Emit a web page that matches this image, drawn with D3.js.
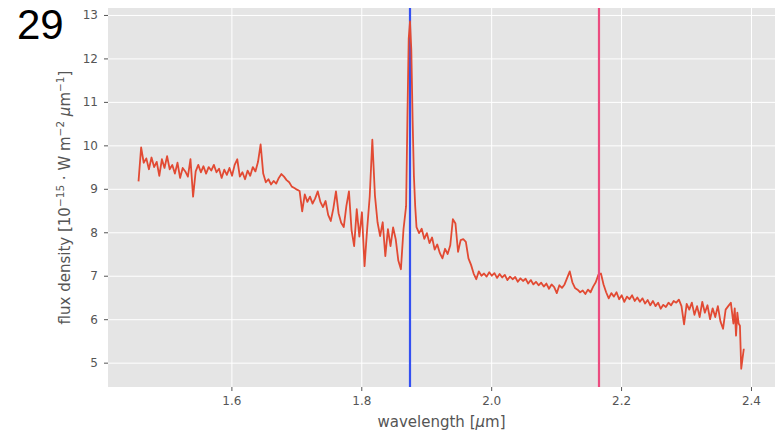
<!DOCTYPE html>
<html>
<head>
<meta charset="utf-8">
<script src="https://cdn.jsdelivr.net/npm/d3@7"></script>
<style>
  body { margin: 0; background: #fff; }
  svg { display: block; }
</style>
</head>
<body>
<div id="chart"></div>
<script>
// spectrum: wavelength [um] and flux density
var wavelength = [
  1.457,1.461,1.465,1.469,1.473,1.477,1.481,1.485,1.489,1.493,
  1.497,1.501,1.505,1.509,1.513,1.517,1.521,1.525,1.529,1.533,
  1.537,1.541,1.545,1.549,1.553,1.557,1.561,1.565,1.569,1.573,
  1.577,1.581,1.585,1.589,1.593,1.597,1.601,1.605,1.609,1.613,
  1.617,1.621,1.625,1.629,1.633,1.637,1.641,1.645,1.649,1.653,
  1.657,1.661,1.665,1.669,1.673,1.677,1.681,1.685,1.689,1.693,
  1.697,1.701,1.705,1.709,1.713,1.717,1.721,1.725,1.729,1.733,
  1.737,1.741,1.745,1.749,1.753,1.757,1.761,1.765,1.769,1.773,
  1.777,1.781,1.785,1.789,1.793,1.797,1.801,1.805,1.809,1.813,
  1.817,1.821,1.825,1.829,1.833,1.837,1.841,1.845,1.849,1.853,
  1.857,1.861,1.865,1.869,1.871,1.873,1.875,1.877,1.879,1.881,
  1.883,1.885,1.889,1.893,1.897,1.901,1.905,1.909,1.913,1.917,
  1.921,1.925,1.929,1.933,1.937,1.941,1.945,1.949,1.953,1.957,
  1.961,1.965,1.969,1.973,1.977,1.981,1.985,1.989,1.993,1.997,
  2.001,2.005,2.009,2.013,2.017,2.021,2.025,2.029,2.033,2.037,
  2.041,2.045,2.049,2.053,2.057,2.061,2.065,2.069,2.073,2.077,
  2.081,2.085,2.089,2.093,2.097,2.101,2.105,2.109,2.113,2.117,
  2.121,2.125,2.129,2.133,2.137,2.141,2.145,2.149,2.153,2.157,
  2.161,2.165,2.169,2.173,2.177,2.181,2.185,2.189,2.193,2.197,
  2.201,2.205,2.209,2.213,2.217,2.221,2.225,2.229,2.233,2.237,
  2.241,2.245,2.249,2.253,2.257,2.261,2.265,2.269,2.273,2.277,
  2.281,2.285,2.289,2.293,2.297,2.301,2.305,2.309,2.313,2.317,
  2.321,2.325,2.329,2.333,2.337,2.341,2.345,2.349,2.353,2.357,
  2.361,2.365,2.369,2.373,2.375,2.377,2.379,2.381,2.383,2.385,
  2.387,2.389
];
var flux = [
  9.17,9.95,9.60,9.70,9.45,9.72,9.50,9.62,9.30,9.68,
  9.48,9.75,9.45,9.55,9.35,9.60,9.25,9.48,9.40,9.28,
  9.68,8.82,9.40,9.55,9.38,9.52,9.35,9.50,9.42,9.55,
  9.38,9.46,9.25,9.44,9.32,9.48,9.30,9.55,9.68,9.28,
  9.38,9.22,9.42,9.30,9.50,9.40,9.62,10.02,9.35,9.15,
  9.22,9.10,9.18,9.12,9.25,9.34,9.28,9.20,9.15,9.05,
  9.02,8.98,8.95,8.48,8.87,8.70,8.82,8.66,8.78,8.94,
  8.70,8.58,8.72,8.40,8.26,8.55,8.94,8.44,8.22,8.12,
  8.60,8.94,8.05,7.68,8.53,7.90,8.46,7.22,8.07,8.83,
  10.13,8.85,8.23,7.91,8.23,7.45,8.07,7.68,8.11,7.84,
  7.35,7.15,8.07,8.60,10.60,12.45,12.85,12.20,10.60,9.30,
  8.60,8.12,7.98,8.08,7.85,7.98,7.75,7.88,7.60,7.72,
  7.52,7.40,7.62,7.50,7.70,8.30,8.20,7.55,7.82,7.84,
  7.78,7.40,7.25,7.05,6.92,7.10,7.00,7.05,6.98,7.08,
  7.00,7.06,6.95,7.04,6.96,7.02,6.90,6.98,6.92,6.97,
  6.86,6.94,6.88,6.93,6.82,6.90,6.80,6.86,6.78,6.84,
  6.75,6.82,6.70,6.80,6.74,6.60,6.78,6.72,6.80,6.95,
  7.10,6.85,6.72,6.68,6.62,6.66,6.58,6.68,6.62,6.75,
  6.85,7.02,7.05,6.80,6.62,6.48,6.60,6.52,6.62,6.46,
  6.55,6.40,6.52,6.46,6.55,6.42,6.50,6.40,6.48,6.36,
  6.44,6.32,6.42,6.30,6.38,6.24,6.33,6.28,6.38,6.32,
  6.42,6.38,6.45,6.30,5.88,6.35,6.22,6.38,6.10,6.30,
  6.05,6.40,6.15,6.32,6.00,6.25,6.05,6.30,5.95,5.78,
  6.22,6.30,6.38,5.90,6.25,5.62,6.15,5.90,5.85,4.86,
  5.10,5.32
];

// the two marked lines (Pa-alpha, Br-gamma)
var markerWavelength = [1.875, 2.166];
var markerColor = ["#3350f2", "#ec4c80"];

var xTicks = [1.6, 1.8, 2.0, 2.2, 2.4];
var yTicks = [5, 6, 7, 8, 9, 10, 11, 12, 13];

var W = 782, H = 434;
var plot = {left: 108, right: 775, top: 8, bottom: 387};

var svg = d3.select("#chart").append("svg")
    .attr("width", W)
    .attr("height", H)
    .style("font-family", "'DejaVu Sans', sans-serif");

var x = d3.scaleLinear().domain([1.410, 2.437]).range([plot.left, plot.right]);
var y = d3.scaleLinear().domain([4.44, 13.16]).range([plot.bottom, plot.top]);

// grey panel
svg.append("rect")
    .attr("x", plot.left).attr("y", plot.top)
    .attr("width", plot.right - plot.left)
    .attr("height", plot.bottom - plot.top)
    .attr("fill", "#e5e5e5");

// white grid
svg.append("g")
    .attr("transform", "translate(0," + plot.bottom + ")")
    .call(d3.axisBottom(x).tickValues(xTicks).tickSize(-(plot.bottom - plot.top)).tickFormat(""))
    .call(function(g) { g.select(".domain").remove(); })
    .selectAll("line").attr("stroke", "#fff").attr("stroke-width", 1);
svg.append("g")
    .attr("transform", "translate(" + plot.left + ",0)")
    .call(d3.axisLeft(y).tickValues(yTicks).tickSize(-(plot.right - plot.left)).tickFormat(""))
    .call(function(g) { g.select(".domain").remove(); })
    .selectAll("line").attr("stroke", "#fff").attr("stroke-width", 1);

// axes with ticks and labels
var xAxis = svg.append("g")
    .attr("transform", "translate(0," + plot.bottom + ")")
    .call(d3.axisBottom(x).tickValues(xTicks).tickSize(4).tickPadding(5).tickFormat(d3.format(".1f")));
var yAxis = svg.append("g")
    .attr("transform", "translate(" + plot.left + ",0)")
    .call(d3.axisLeft(y).tickValues(yTicks).tickSize(4).tickPadding(6).tickFormat(d3.format("d")));
[xAxis, yAxis].forEach(function(a) {
  a.select(".domain").remove();
  a.selectAll("line").attr("stroke", "#555");
  a.selectAll("text").attr("fill", "#555").style("font-size", "12px").style("font-family", "'DejaVu Sans', sans-serif");
});

var clip = svg.append("clipPath").attr("id", "clip").append("rect")
    .attr("x", plot.left).attr("y", plot.top)
    .attr("width", plot.right - plot.left)
    .attr("height", plot.bottom - plot.top);

var marks = svg.append("g").attr("clip-path", "url(#clip)");

// blue line under the spectrum
marks.append("line")
    .attr("x1", x(markerWavelength[0])).attr("x2", x(markerWavelength[0]))
    .attr("y1", plot.top).attr("y2", plot.bottom)
    .attr("stroke", markerColor[0]).attr("stroke-width", 2.2);

var points = d3.zip(wavelength, flux);
marks.append("path")
    .datum(points)
    .attr("fill", "none")
    .attr("stroke", "#e24a33")
    .attr("stroke-width", 1.8)
    .attr("stroke-linejoin", "round")
    .attr("d", d3.line().x(function(d) { return x(d[0]); }).y(function(d) { return y(d[1]); }));

// pink line on top
marks.append("line")
    .attr("x1", x(markerWavelength[1])).attr("x2", x(markerWavelength[1]))
    .attr("y1", plot.top).attr("y2", plot.bottom)
    .attr("stroke", markerColor[1]).attr("stroke-width", 2.2);

// axis titles
svg.append("text")
    .attr("x", (plot.left + plot.right) / 2)
    .attr("y", 427)
    .attr("text-anchor", "middle")
    .attr("fill", "#555")
    .style("font-size", "15px")
    .html('wavelength [<tspan font-style="italic">μ</tspan>m]');

var yl = svg.append("text")
    .attr("transform", "translate(70," + ((plot.top + plot.bottom) / 2) + ") rotate(-90)")
    .attr("text-anchor", "middle")
    .attr("fill", "#555")
    .style("font-size", "15px");
yl.append("tspan").text("flux density [10");
yl.append("tspan").attr("dy", -6).style("font-size", "10.5px").text("−15");
yl.append("tspan").attr("dy", 6).text(" · W m");
yl.append("tspan").attr("dy", -6).style("font-size", "10.5px").text("−2");
yl.append("tspan").attr("dy", 6).text(" ");
yl.append("tspan").attr("font-style", "italic").text("μ");
yl.append("tspan").text("m");
yl.append("tspan").attr("dy", -6).style("font-size", "10.5px").text("−1");
yl.append("tspan").attr("dy", 6).text("]");

// panel number
svg.append("text")
    .attr("x", 17)
    .attr("y", 39)
    .attr("fill", "#000")
    .style("font-family", "'Liberation Sans', Arial, sans-serif")
    .style("font-size", "42px")
    .text("29");
</script>
</body>
</html>
